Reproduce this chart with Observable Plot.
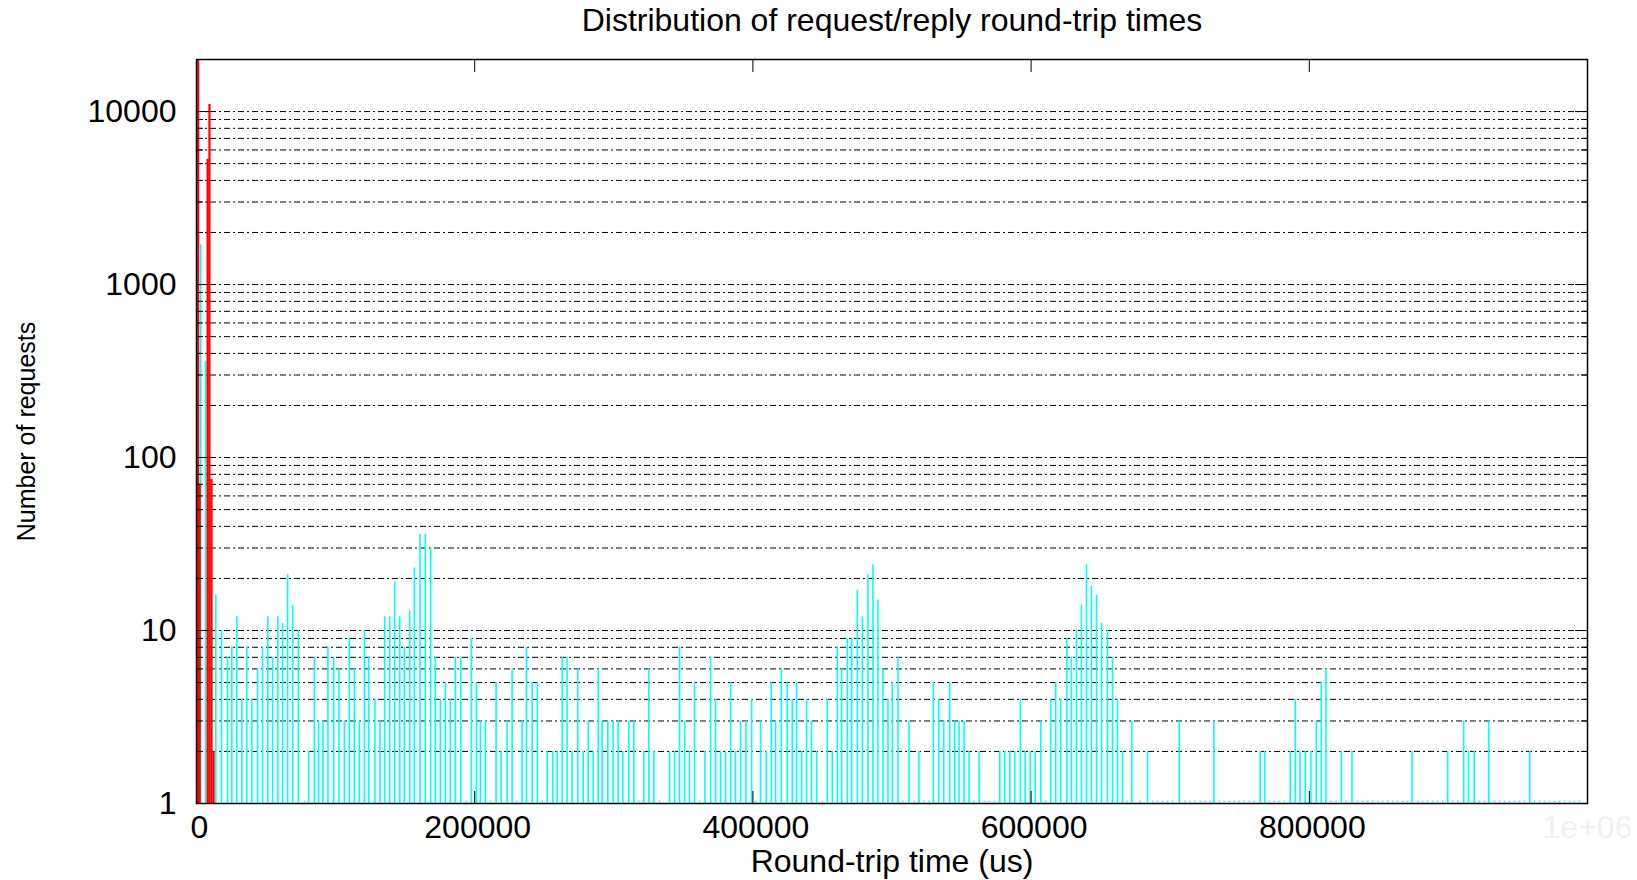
<!DOCTYPE html>
<html>
<head>
<meta charset="utf-8">
<script src="https://cdn.jsdelivr.net/npm/d3@7"></script>
<script src="https://cdn.jsdelivr.net/npm/@observablehq/plot@0.6"></script>
<style>
  html, body { margin: 0; padding: 0; background: #fff; }
</style>
</head>
<body>
<div id="chart"></div>
<script>
// ---- Data ----
const titleText = "Distribution of request/reply round-trip times";
const xLabel = "Round-trip time (us)";
const yLabel = "Number of requests";

// x ticks (us) and y ticks (log)
const xTicks = [0, 200000, 400000, 600000, 800000];
const yMajor = [1, 10, 100, 1000, 10000];
const yMinor = [2,3,4,5,6,7,8,9, 20,30,40,50,60,70,80,90, 200,300,400,500,600,700,800,900, 2000,3000,4000,5000,6000,7000,8000,9000];
const yGrid = [2,3,4,5,6,7,8,9,10, 20,30,40,50,60,70,80,90,100, 200,300,400,500,600,700,800,900,1000, 2000,3000,4000,5000,6000,7000,8000,9000,10000];

// cyan series: [round-trip time (us), number of requests]
const cyanBins = [
  [3000,1700],[6600,360],[13900,16],[18000,10],[22300,7],[25400,8],[29000,12],[32600,4],[36200,8],[39800,4],
  [43900,6],[47500,8],[51300,12],[54700,7],[58500,12],[61900,11],[65500,21],[69100,14],[73200,10],[77500,1],
  [80600,2],[84700,7],[87800,3],[90900,3],[94500,8],[98600,7],[102400,6],[106300,3],[109900,9],[113500,6],
  [117100,3],[120700,10],[123800,7],[128300,4],[131900,3],[135300,12],[138900,12],[142500,19],[146100,12],[149400,8],
  [153300,13],[156600,23],[160700,36],[164500,36],[168400,30],[171700,7],[175300,4],[178900,5],[182500,4],[186100,7],
  [190000,7],[194000,1],[197600,9],[201200,5],[204100,3],[207700,3],[211300,1],[215400,5],[219000,2],[223300,3],
  [226900,6],[230500,1],[234100,3],[237200,8],[241300,5],[245100,5],[248500,1],[252100,2],[256100,2],[259300,2],
  [262900,7],[266400,7],[270000,2],[274100,6],[278000,2],[281600,3],[285200,2],[288800,6],[291600,3],[295700,3],
  [299500,3],[303100,3],[306500,2],[310800,3],[314400,3],[318000,1],[321600,2],[325200,6],[328800,2],[332900,1],
  [340100,2],[343700,2],[347300,8],[350900,3],[354400,2],[358000,5],[361600,1],[365500,2],[369600,7],[373200,4],
  [376800,2],[380300,2],[384000,5],[387500,2],[391100,3],[395000,3],[399100,4],[401900,1],[405500,3],[409600,2],
  [413200,5],[416300,3],[420400,6],[424700,5],[428300,4],[431400,5],[435000,2],[438600,4],[442200,3],[445800,2],
  [449900,1],[453500,4],[457100,2],[460700,8],[463800,6],[467900,9],[471000,9],[475100,17],[478700,12],[482700,21],
  [486300,24],[489900,15],[493500,6],[497100,4],[500200,5],[504300,7],[507900,1],[512200,3],[515800,1],[519400,2],
  [523000,1],[526600,1],[529700,5],[533600,4],[537200,3],[541500,5],[545100,3],[548200,3],[551800,3],[555400,2],
  [559000,1],[562600,2],[566200,1],[569800,1],[573400,1],[577500,2],[581100,2],[584700,2],[588300,2],[592300,4],
  [595700,2],[599300,2],[602900,2],[607000,3],[610600,1],[614100,4],[617700,5],[621300,4],[625700,9],[629000,7],
  [632600,10],[636200,14],[639800,24],[643400,18],[647000,16],[650600,11],[654900,10],[658500,7],[662100,4],[665700,2],
  [669300,1],[672400,3],[678200,1],[683700,2],[687300,1],[690900,1],[694500,1],[698100,1],[701700,1],[706500,3],
  [710700,1],[714300,1],[717900,1],[721500,1],[725100,1],[728700,1],[731400,3],[735300,1],[738800,1],[742400,1],
  [746000,1],[749600,1],[753200,1],[756800,1],[760400,1],[764700,2],[767900,2],[771200,1],[774800,1],[778400,1],
  [782000,1],[786300,2],[789900,4],[793300,2],[797100,2],[801200,2],[805000,3],[808600,5],[812000,6],[815600,1],
  [819200,1],[823000,2],[826400,1],[830700,2],[834800,1],[838400,1],[842000,1],[845600,1],[849200,1],[852800,1],
  [856400,1],[860000,1],[863500,1],[867100,1],[870700,1],[873900,2],[877900,1],[881500,1],[885100,1],[888700,1],
  [892300,1],[895900,1],[899500,2],[903100,1],[906700,1],[911000,3],[914400,2],[918500,2],[922300,1],[925900,1],
  [929000,3],[933100,1],[936700,1],[940300,1],[943900,1],[947500,1],[951100,1],[954700,1],[958500,2],[961900,1],
  [965500,1],[969100,1],[972700,1],[976300,1],[979900,1],[983500,1],[987100,1],[990600,1],[994200,1]
];

// red series: [round-trip time (us), number of requests]
const redBins = [
  [1200,40000],[2300,70],[8000,5300],[9300,11000],[10800,75],[12300,2]
];

const cyan = cyanBins.map(([rtt, count]) => ({rtt, count}));
const red = redBins.map(([rtt, count]) => ({rtt, count}));

const chart = Plot.plot({
  width: 1637,
  height: 880,
  marginLeft: 196,
  marginRight: 50,
  marginTop: 59,
  marginBottom: 77,
  x: {type: "linear", domain: [0, 1000000]},
  y: {type: "log", domain: [1, 20000]},
  style: {fontFamily: "'Liberation Sans', Arial, sans-serif", fontSize: "32px", background: "#fff", color: "#000"},
  marks: [
    Plot.gridY(yGrid, {stroke: "#000", strokeOpacity: 1, strokeWidth: 1, strokeDasharray: "6,3,2,3"}),
    Plot.ruleX(cyan.filter(d => d.count > 1), {x: "rtt", y1: 1, y2: "count", stroke: "#00ffff", strokeWidth: 1.6}),
    Plot.ruleX(cyan.filter(d => d.count === 1), {x: "rtt", y1: 1, y2: "count", stroke: "#00ffff", strokeWidth: 1.5, strokeLinecap: "square", dy: -1.5}),
    Plot.ruleX(red, {x: "rtt", y1: 1, y2: "count", stroke: "#ff0000", strokeWidth: 2.2, clip: true}),
    Plot.frame({stroke: "#000", strokeWidth: 1.5}),
    // inward ticks
    Plot.axisY(yMajor, {anchor: "left", tickSize: 13, dx: 13, fill: "none", label: null}),
    Plot.axisY(yMinor, {anchor: "left", tickSize: 7, dx: 7, fill: "none", label: null}),
    Plot.axisY(yMajor, {anchor: "right", tickSize: 13, dx: -13, fill: "none", label: null}),
    Plot.axisY(yMinor, {anchor: "right", tickSize: 7, dx: -7, fill: "none", label: null}),
    Plot.axisX(xTicks, {anchor: "bottom", tickSize: 12, dy: -12, fill: "none", label: null}),
    Plot.axisX(xTicks, {anchor: "top", tickSize: 12, dy: 12, fill: "none", label: null}),
    // tick labels
    Plot.axisY(yMajor, {anchor: "left", tickSize: 0, tickPadding: 20, tickFormat: d => String(d), label: null, fontSize: 32}),
    Plot.axisX(xTicks, {anchor: "bottom", tickSize: 0, tickPadding: 12, dx: 3, tickFormat: d => String(d), label: null, fontSize: 32}),
    Plot.text([1000000], {x: d => d, frameAnchor: "bottom", text: () => "1e+06", lineAnchor: "top", dy: 12, fill: "#f0f0f0", fontSize: 32}),
    // titles
    Plot.text([titleText], {frameAnchor: "top", lineAnchor: "middle", dy: -39, fontSize: 32, fill: "#000"}),
    Plot.text([xLabel], {frameAnchor: "bottom", lineAnchor: "middle", dy: 58, fontSize: 32, fill: "#000"}),
    Plot.text([yLabel], {frameAnchor: "left", textAnchor: "middle", lineAnchor: "middle", rotate: -90, dx: -170, fontSize: 25, fill: "#000"})
  ]
});
document.getElementById("chart").appendChild(chart);
</script>
</body>
</html>
